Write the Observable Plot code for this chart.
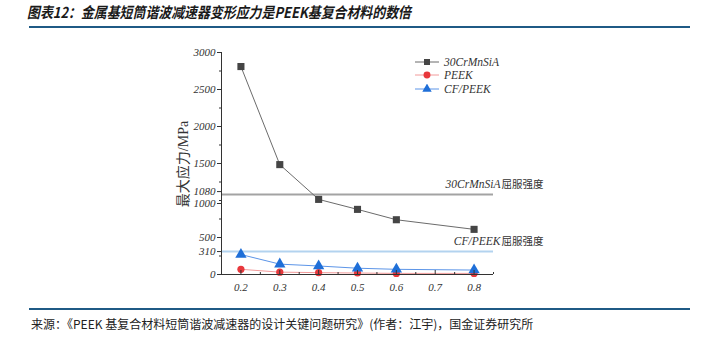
<!DOCTYPE html>
<html><head><meta charset="utf-8">
<script src="https://cdn.jsdelivr.net/npm/d3@7"></script>
<script src="https://cdn.jsdelivr.net/npm/@observablehq/plot@0.6"></script>
<style>
body{margin:0;width:701px;height:339px;position:relative;background:#fff;overflow:hidden}
#title{position:absolute;left:27px;top:1px;font:bold italic 15px "Noto Sans CJK SC";color:#1a1a1a;white-space:nowrap;transform-origin:0 0;transform:scaleX(0.86)}
.hr{position:absolute;left:29px;width:661px;height:2px;background:#1f5a85}
#src{position:absolute;left:31px;top:315px;font:12px "Noto Sans CJK SC";color:#222;white-space:nowrap}
#chart{position:absolute;left:0;top:0}
#ylab{position:absolute;left:182px;top:164px;transform:translate(-50%,-50%) rotate(-90deg);font:14px "Liberation Serif","Noto Sans CJK SC";color:#333;white-space:nowrap}
#legend{position:absolute;left:415px;top:55px;font:italic 11.5px "Liberation Serif";color:#333}
#legend .row{height:13.5px;display:flex;align-items:center}
#legend svg{margin-right:3px}
</style></head>
<body>
<div id="title">图表12：金属基短筒谐波减速器变形应力是PEEK基复合材料的数倍</div>
<div class="hr" style="top:26px"></div>
<div id="chart"></div>
<div id="ylab">最大应力/MPa</div>
<div id="legend"></div>
<div class="hr" style="top:308px"></div>
<div id="src">来源：《PEEK 基复合材料短筒谐波减速器的设计关键问题研究》(作者：江宇)，国金证券研究所</div>
<script>
const xValues = [0.2, 0.3, 0.4, 0.5, 0.6, 0.8];
const steelValues = [2810, 1485, 1015, 880, 740, 610];
const peekValues = [70, 32, 25, 20, 15, 15];
const cfPeekValues = [270, 140, 115, 85, 70, 60];
const seriesNames = ["30CrMnSiA", "PEEK", "CF/PEEK"];
const yieldValues = [1080, 310];
const yieldNames = ["30CrMnSiA", "CF/PEEK"];
const yieldSuffix = "屈服强度";
const yTicks = [0, 310, 500, 1500, 2000, 2500, 3000];
const yTickUpper = [1080];
const yTickLower = [1000];
const xTicks = [0.2, 0.3, 0.4, 0.5, 0.6, 0.7, 0.8];
const xDomain = [0.15, 0.85];
const yDomain = [0, 3000];

const seriesValues = [steelValues, peekValues, cfPeekValues];
const lineColors = ["#6b6b6b", "#f29a9a", "#5c95e8"];
const markColors = ["#454545", "#e8383c", "#1f6fd8"];
const symbols = ["square", "circle", "triangle"];
const radii = [4, 3.6, 4.2];
const yieldColors = ["#a3a3a3", "#b3d3ef"];

const marks = [];
marks.push(Plot.ruleY(yieldValues, {y: d => d, stroke: (d, i) => yieldColors[i], strokeWidth: 2}));
marks.push(Plot.text(yieldValues, {x: xDomain[1], y: d => d, text: () => yieldSuffix, textAnchor: "end", dx: 50, dy: -10, fontFamily: "Noto Sans CJK SC", fontStyle: "normal", fontSize: 10.5, fill: "#333"}));
marks.push(Plot.text(yieldValues, {x: xDomain[1], y: d => d, text: (d, i) => yieldNames[i], textAnchor: "end", dx: 7, dy: -10, fontSize: 11.5, fill: "#333"}));
seriesValues.forEach((vals, s) => {
  marks.push(Plot.line(xValues, {x: d => d, y: (d, i) => vals[i], stroke: lineColors[s], strokeWidth: 1}));
});
seriesValues.forEach((vals, s) => {
  marks.push(Plot.dot(xValues, {x: d => d, y: (d, i) => vals[i], symbol: () => symbols[s], fill: markColors[s], r: radii[s]}));
});
marks.push(Plot.ruleX([xDomain[0]], {stroke: "#333", strokeWidth: 1}));
marks.push(Plot.ruleY([yDomain[0]], {stroke: "#333", strokeWidth: 1}));
marks.push(Plot.axisY(yTicks, {tickSize: 4, tickPadding: 2, tickFormat: d => String(d), label: null, fontSize: 11, stroke: "#333"}));
marks.push(Plot.axisY(yTickUpper, {tickSize: 4, tickPadding: 2, tickFormat: d => String(d), label: null, fontSize: 11, stroke: "#333", dy: -3}));
marks.push(Plot.axisY(yTickLower, {tickSize: 4, tickPadding: 2, tickFormat: d => String(d), label: null, fontSize: 11, stroke: "#333", dy: 3}));
marks.push(Plot.axisY(d3.range(0, 3001, 250), {tickSize: 2, tickFormat: () => "", label: null, stroke: "#333"}));
marks.push(Plot.axisX(xTicks, {tickSize: 0, tickPadding: 9, tickFormat: d => d.toFixed(1), label: null, fontSize: 11}));
marks.push(Plot.tickX(xTicks, {x: d => d, insetTop: 218, stroke: "#333"}));
marks.push(Plot.tickX(d3.range(0.25, 0.851, 0.1), {x: d => d, insetTop: 220, stroke: "#333"}));

const chart = Plot.plot({
  width: 701, height: 339,
  marginLeft: 221, marginRight: 208, marginTop: 52, marginBottom: 65,
  x: {domain: xDomain},
  y: {domain: yDomain},
  style: {fontFamily: '"Liberation Serif"', fontStyle: "italic", fontSize: "11px", color: "#333", background: "transparent", overflow: "visible"},
  marks
});
document.getElementById("chart").appendChild(chart);

const legend = document.getElementById("legend");
seriesNames.forEach((name, s) => {
  const row = document.createElement("div");
  row.className = "row";
  const svg = d3.create("svg").attr("width", 26).attr("height", 10);
  svg.append("line").attr("x1", 0).attr("x2", 24).attr("y1", 5).attr("y2", 5).attr("stroke", lineColors[s]).attr("stroke-width", 1);
  svg.append("path").attr("transform", "translate(12,5)")
    .attr("d", d3.symbol(s === 0 ? d3.symbolSquare : s === 1 ? d3.symbolCircle : d3.symbolTriangle, s === 0 ? 36 : 38)())
    .attr("fill", markColors[s]);
  row.appendChild(svg.node());
  const span = document.createElement("span");
  span.textContent = name;
  row.appendChild(span);
  legend.appendChild(row);
});
</script>
</body></html>
